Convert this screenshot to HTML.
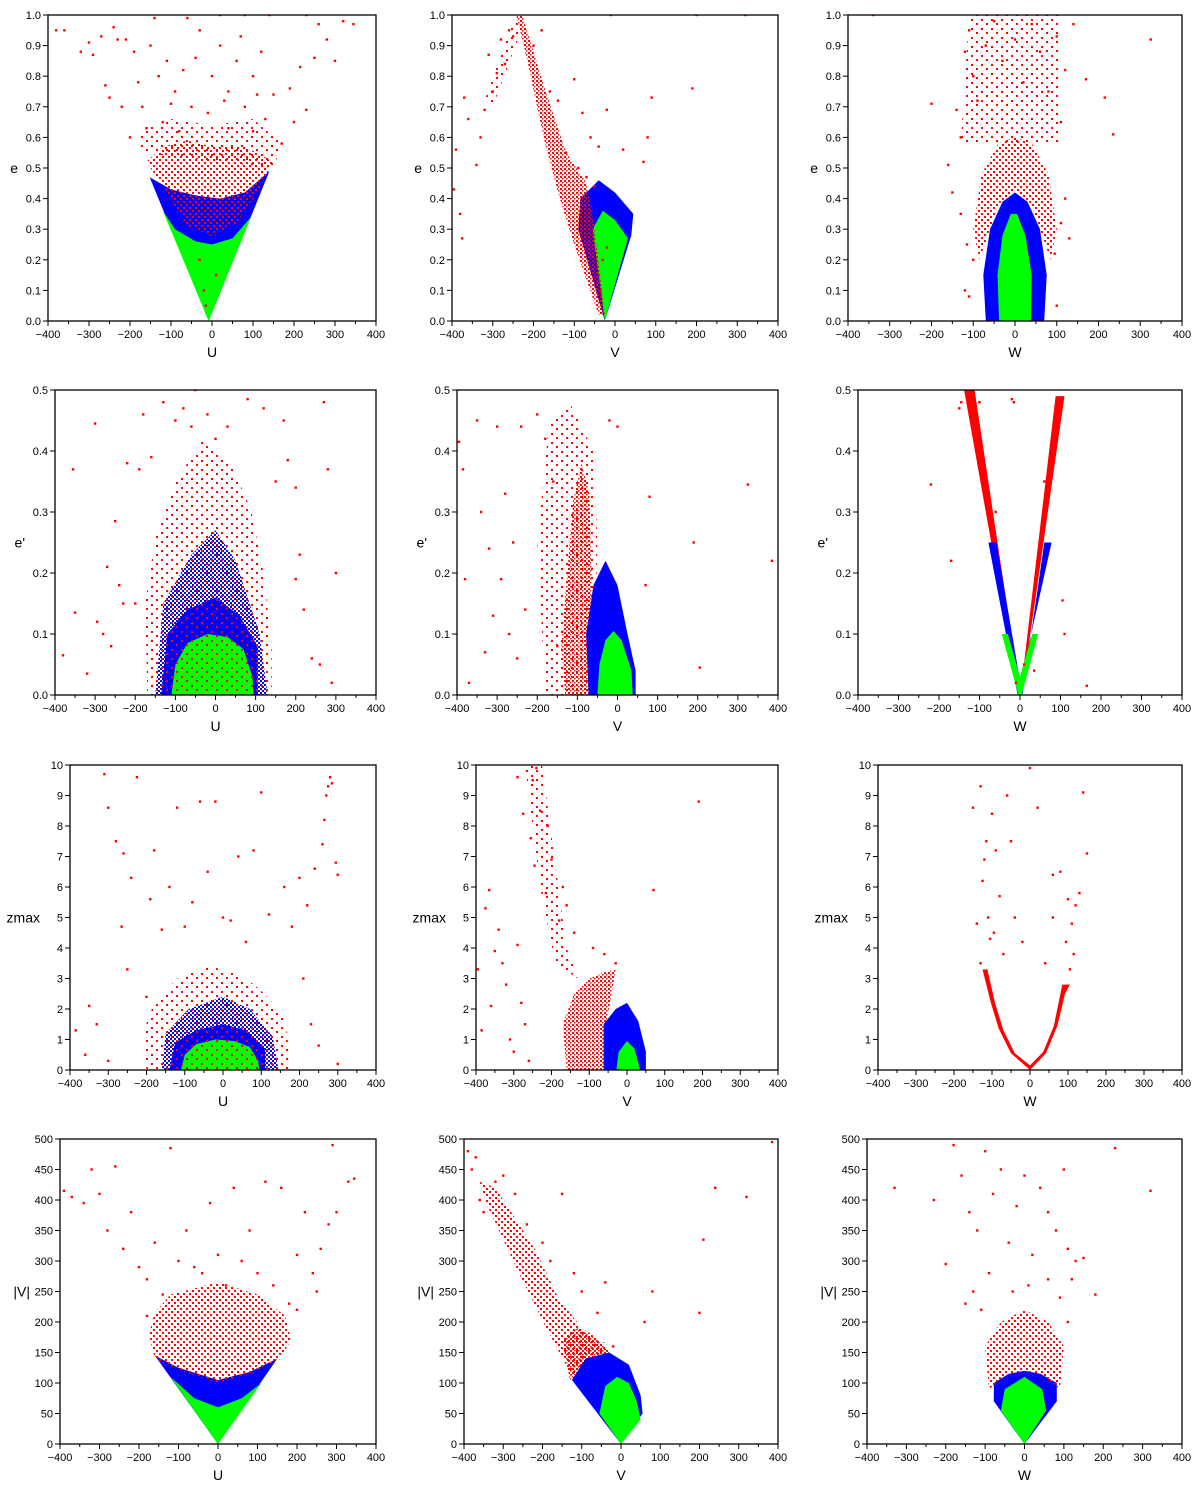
<!DOCTYPE html>
<html><head><meta charset="utf-8"><style>
html,body{margin:0;padding:0;background:#fff}
svg{display:block;font-family:"Liberation Sans","DejaVu Sans",sans-serif}
</style></head><body>
<svg id="chart" width="1200" height="1495" viewBox="0 0 1200 1495" xmlns="http://www.w3.org/2000/svg">
<defs>
<pattern id="rd" width="4" height="4" patternUnits="userSpaceOnUse"><rect x="0" y="0" width="2" height="2" fill="#f00"/><rect x="2" y="2" width="1.5" height="1.5" fill="#f00"/></pattern>
<pattern id="rm" width="6" height="6" patternUnits="userSpaceOnUse"><rect x="0" y="0" width="2" height="2" fill="#f00"/><rect x="3" y="3" width="2" height="2" fill="#f00"/></pattern>
<pattern id="rs" width="10" height="9" patternUnits="userSpaceOnUse"><rect x="1" y="1" width="2" height="2" fill="#f00"/><rect x="6" y="5" width="2" height="2" fill="#f00"/></pattern>
<pattern id="bm" width="4" height="4" patternUnits="userSpaceOnUse"><rect x="0" y="0" width="2" height="2" fill="#00f"/><rect x="2" y="2" width="2" height="2" fill="#00f"/></pattern>
</defs>
</svg>
<script>
// ---- data (x = velocity component, y = orbital parameter) ----
const xTicks = [-400,-300,-200,-100,0,100,200,300,400];
const yTicksE = [0,0.1,0.2,0.3,0.4,0.5,0.6,0.7,0.8,0.9,1.0];
const yTicksEp = [0,0.1,0.2,0.3,0.4,0.5];
const yTicksZ = [0,1,2,3,4,5,6,7,8,9,10];
const yTicksV = [0,50,100,150,200,250,300,350,400,450,500];

// Panel U-e
const p11Blue = [[-8,0],[-152,0.47],[-100,0.43],[-40,0.41],[20,0.40],[80,0.42],[140,0.49],[-8,0]];
const p11Green = [[-8,0],[-120,0.36],[-90,0.30],[-40,0.26],[0,0.25],[50,0.27],[95,0.34],[-8,0]];
const p11RedDense = [[-120,0.44],[-160,0.52],[-120,0.57],[-60,0.59],[0,0.57],[80,0.57],[150,0.52],[110,0.42],[60,0.32],[0,0.28],[-60,0.31]];
const p11RedMid = [[-170,0.55],[-180,0.62],[-100,0.66],[0,0.64],[100,0.66],[170,0.58],[150,0.5]];
const p11Red = [[-380,0.95],[-360,0.95],[-320,0.88],[-300,0.91],[-290,0.87],[-270,0.93],[-260,0.77],[-250,0.73],[-240,0.96],[-230,0.92],[-220,0.7],[-210,0.92],[-190,0.88],[-180,0.78],[-170,0.7],[-160,0.63],[-150,0.9],[-130,0.8],[-110,0.85],[-90,0.75],[-70,0.82],[-50,0.7],[-30,0.95],[-10,0.68],[0,0.8],[20,0.9],[40,0.75],[60,0.85],[80,0.7],[100,0.8],[120,0.88],[130,0.66],[150,0.74],[170,0.58],[190,0.76],[200,0.65],[215,0.83],[230,0.69],[250,0.86],[260,0.97],[280,0.92],[300,0.85],[320,0.98],[345,0.97],[-120,0.65],[-80,0.62],[40,0.63],[100,0.62],[-200,0.6],[-140,0.99],[-60,0.99],[20,1.0],[80,1.0],[140,1.0],[230,1.0],[-20,0.1],[-15,0.05],[10,0.15],[-30,0.2],[30,0.72],[-40,0.86],[70,0.93],[110,0.74],[-100,0.71]];

// Panel V-e
const p12Blue = [[-25,0],[-90,0.3],[-85,0.4],[-40,0.46],[0,0.42],[45,0.35],[40,0.28],[-25,0]];
const p12Green = [[-25,0],[-55,0.3],[-30,0.36],[0,0.33],[32,0.27],[-25,0]];
const p12RedDense = [[-242,1.0],[-228,1.0],[-170,0.75],[-120,0.55],[-70,0.45],[-50,0.3],[-25,0.02],[-40,0.02],[-100,0.25],[-140,0.42],[-175,0.6],[-215,0.85]];
const p12RedMid = [[-245,1.0],[-320,0.72],[-300,0.7],[-230,0.95]];
const p12Red = [[-395,0.43],[-390,0.56],[-380,0.35],[-375,0.27],[-370,0.73],[-360,0.66],[-340,0.51],[-330,0.60],[-320,0.69],[-310,0.87],[-300,0.75],[-290,0.81],[-280,0.92],[-270,0.84],[-260,0.95],[-250,0.93],[-160,0.75],[-140,0.72],[-120,0.55],[-80,0.68],[-60,0.6],[-40,0.57],[-20,0.69],[20,0.56],[70,0.52],[80,0.6],[90,0.73],[190,0.76],[-100,0.79],[-200,0.9],[-180,0.95],[-10,1.0],[200,1.0],[320,1.0],[-40,0.15],[-30,0.2],[-20,0.24],[-35,0.1],[-90,0.5],[-70,0.47],[-50,0.44]];

// Panel W-e
const p13Blue = [[-70,0],[-76,0.15],[-60,0.3],[-30,0.39],[0,0.42],[30,0.39],[60,0.3],[76,0.15],[70,0]];
const p13Green = [[-38,0],[-42,0.15],[-30,0.28],[-10,0.35],[5,0.35],[25,0.28],[40,0.15],[38,0]];
const p13RedDense = [[-100,0.3],[-80,0.48],[-40,0.58],[0,0.6],[40,0.58],[80,0.48],[100,0.3],[85,0.2],[40,0.38],[0,0.43],[-40,0.38],[-85,0.2]];
const p13RedMid = [[-130,0.58],[-110,1.0],[110,1.0],[110,0.58],[40,0.58],[-40,0.58]];
const p13Red = [[-340,1.0],[-200,0.71],[-160,0.51],[-150,0.42],[-140,0.69],[-130,0.6],[-120,0.88],[-110,0.95],[-100,0.8],[-90,0.72],[-70,0.9],[-50,0.98],[-30,0.85],[0,0.92],[20,0.78],[40,0.97],[60,0.88],[80,0.75],[100,0.93],[110,0.65],[120,0.82],[140,0.97],[170,0.79],[215,0.73],[235,0.61],[325,0.92],[-120,0.1],[-110,0.08],[100,0.05],[130,0.27],[120,0.4],[-130,0.35],[-100,0.2],[95,0.22],[-115,0.25],[110,0.32]];

// Panel U-e'
const p21BlueFringe = [[-150,0],[-130,0.15],[-60,0.23],[0,0.27],[50,0.22],[110,0.1],[130,0]];
const p21Blue = [[-135,0],[-120,0.1],[-70,0.14],[0,0.16],[60,0.13],[105,0.08],[105,0]];
const p21Green = [[-110,0],[-100,0.05],[-70,0.085],[-20,0.1],[30,0.095],[70,0.075],[92,0.03],[95,0]];
const p21RedDense = [[-170,0],[-175,0.15],[-150,0.26],[-100,0.35],[-30,0.42],[40,0.38],[90,0.3],[120,0.2],[140,0.08],[140,0]];
const p21Red = [[-380,0.065],[-355,0.37],[-350,0.135],[-320,0.035],[-300,0.445],[-295,0.12],[-280,0.1],[-270,0.21],[-260,0.08],[-250,0.285],[-240,0.18],[-230,0.15],[-220,0.38],[-200,0.15],[-190,0.37],[-180,0.46],[-160,0.39],[-130,0.48],[-100,0.45],[-80,0.47],[-60,0.44],[-50,0.5],[-20,0.46],[0,0.42],[30,0.44],[80,0.485],[120,0.47],[150,0.35],[170,0.45],[180,0.385],[200,0.34],[210,0.23],[220,0.14],[240,0.06],[260,0.05],[270,0.48],[280,0.37],[290,0.02],[300,0.2],[200,0.19]];

// Panel V-e'
const p22Blue = [[-72,0],[-78,0.1],[-60,0.18],[-30,0.22],[0,0.18],[25,0.1],[45,0.04],[45,0]];
const p22Green = [[-50,0],[-45,0.05],[-30,0.09],[-10,0.105],[10,0.09],[35,0.04],[38,0]];
const p22RedDense = [[-130,0],[-140,0.08],[-125,0.2],[-110,0.32],[-90,0.38],[-70,0.33],[-65,0.2],[-70,0]];
const p22RedMid = [[-180,0],[-200,0.25],[-170,0.45],[-120,0.48],[-60,0.4],[-50,0.25],[-60,0]];
const p22Red = [[-395,0.415],[-385,0.37],[-380,0.19],[-370,0.02],[-350,0.45],[-340,0.3],[-330,0.07],[-320,0.24],[-310,0.13],[-300,0.44],[-290,0.19],[-280,0.33],[-270,0.1],[-260,0.25],[-250,0.06],[-240,0.44],[-230,0.14],[-200,0.46],[-180,0.42],[-160,0.35],[-150,0.08],[-20,0.45],[0,0.44],[70,0.18],[80,0.325],[190,0.25],[205,0.045],[325,0.345],[385,0.22]];

// Panel W-e'
const p23RedLeft = [[-4,0],[-138,0.5],[-112,0.5],[-8,0.04]];
const p23RedRight = [[4,0],[110,0.49],[88,0.49],[8,0.04]];
const p23Blue = [[-6,0],[-78,0.25],[-58,0.25],[6,0],[60,0.25],[78,0.25]];
const p23Green = [[-4,0],[-45,0.1],[-30,0.1],[0,0.03],[30,0.1],[45,0.1],[4,0]];
const p23Red = [[-220,0.345],[-170,0.22],[-150,0.47],[-145,0.48],[-100,0.48],[-20,0.485],[-15,0.48],[105,0.155],[110,0.1],[165,0.015],[35,0.04],[-60,0.3],[60,0.35],[-10,0.02],[10,0.05]];

// Panel U-zmax
const p31BlueFringe = [[-160,0],[-150,1.2],[-90,2.0],[0,2.4],[70,2.0],[130,1.1],[145,0]];
const p31Blue = [[-140,0],[-125,0.9],[-70,1.3],[0,1.5],[60,1.3],[110,0.7],[110,0]];
const p31Green = [[-110,0],[-100,0.5],[-70,0.85],[-20,1.0],[30,0.95],[70,0.75],[92,0.3],[95,0]];
const p31RedDense = [[-200,0],[-210,1.2],[-180,2.2],[-120,3],[-40,3.4],[40,3.2],[100,2.6],[160,1.8],[180,0]];
const p31Red = [[-385,1.3],[-350,2.1],[-310,9.7],[-300,8.6],[-280,7.5],[-265,4.7],[-260,7.1],[-250,3.3],[-240,6.3],[-225,9.6],[-200,2.4],[-190,5.6],[-180,7.2],[-160,4.6],[-140,6.0],[-120,8.6],[-100,4.7],[-80,5.5],[-60,8.8],[-40,6.5],[-20,8.8],[0,5.0],[20,4.9],[40,7.0],[60,4.2],[80,7.2],[100,9.1],[120,5.1],[160,6.0],[180,4.7],[200,6.3],[210,3.0],[220,5.4],[240,6.6],[260,7.4],[265,8.2],[270,9.0],[275,9.3],[280,9.6],[285,9.4],[295,6.8],[300,6.4],[-360,0.5],[-300,0.3],[-330,1.5],[230,1.5],[250,0.8],[300,0.2]];

// Panel V-zmax
const p32Blue = [[-62,0],[-62,1.5],[-30,2.0],[0,2.2],[30,1.6],[50,0.6],[50,0]];
const p32Green = [[-28,0],[-22,0.6],[0,0.95],[20,0.7],[35,0]];
const p32RedDense = [[-160,0],[-170,1.5],[-140,2.5],[-100,3],[-60,3.2],[-30,3.3],[-55,1.5],[-62,0]];
const p32RedMid = [[-270,10],[-225,10],[-160,4],[-130,3],[-190,3.5],[-230,6]];
const p32Red = [[-395,3.3],[-385,1.3],[-375,5.3],[-365,5.9],[-360,2.1],[-350,3.9],[-340,4.6],[-330,3.5],[-320,2.8],[-310,1.0],[-300,0.6],[-290,4.1],[-280,2.2],[-270,1.5],[-260,0.3],[-250,9.5],[-240,9.9],[-230,8.5],[-210,8.0],[-200,6.9],[-180,4.9],[-160,5.4],[-140,4.5],[-90,4.0],[-60,3.8],[-30,3.5],[70,5.9],[190,8.8],[-290,9.6],[-275,8.4],[-255,7.6],[-245,6.7],[-215,5.8],[-170,6.0]];

// Panel W-zmax
const p33RedLeft = [[0,0],[-50,0.55],[-82,1.35],[-103,2.2],[-125,3.3],[-112,3.3],[-92,2.2],[-70,1.3],[-40,0.55],[0,0.15]];
const p33RedRight = [[0,0],[42,0.55],[72,1.45],[92,2.5],[105,2.8],[85,2.8],[63,1.45],[35,0.6],[0,0.15]];
const p33Red = [[-150,8.6],[-130,9.3],[-120,6.9],[-100,8.4],[-90,7.2],[-80,5.7],[-60,9.0],[-50,7.5],[-40,5.0],[-20,4.2],[0,9.9],[20,8.6],[40,3.5],[60,5.0],[80,6.5],[100,5.6],[110,4.8],[120,5.4],[130,5.8],[140,9.1],[150,7.1],[-110,5.0],[-140,4.8],[-95,4.5],[-70,3.8],[-130,3.5],[115,3.8],[-125,6.2],[-105,4.3],[105,3.3],[95,4.2],[-115,7.5],[60,6.4]];

// Panel U-|V|
const p41Blue = [[0,0],[-160,145],[-100,125],[0,105],[80,118],[150,140],[0,0]];
const p41Green = [[0,0],[-120,110],[-60,75],[0,60],[60,75],[110,100],[0,0]];
const p41RedDense = [[-160,140],[-175,180],[-160,215],[-120,245],[0,265],[100,245],[170,210],[185,170],[155,138],[80,115],[0,100],[-100,122]];
const p41Red = [[-390,415],[-370,405],[-340,395],[-320,450],[-300,410],[-280,350],[-260,455],[-240,320],[-220,380],[-200,290],[-180,270],[-160,330],[-140,245],[-120,485],[-100,300],[-80,350],[-60,290],[-40,280],[-20,395],[0,310],[20,260],[40,420],[60,300],[80,350],[100,280],[120,430],[140,260],[160,420],[180,230],[200,310],[220,380],[240,280],[260,320],[280,360],[300,380],[330,430],[345,435],[290,490],[250,250],[-180,210],[200,220]];

// Panel V-|V|
const p42Blue = [[0,0],[-125,105],[-90,140],[-30,150],[20,130],[50,80],[55,50],[0,0]];
const p42Green = [[0,0],[-55,50],[-40,95],[-10,110],[20,100],[40,70],[50,40],[0,0]];
const p42RedDense = [[-130,105],[-150,170],[-110,190],[-60,170],[-30,150],[-80,140]];
const p42RedMid = [[-360,430],[-320,420],[-220,320],[-160,240],[-100,190],[-40,165],[-20,130],[-60,110],[-120,105],[-190,190],[-260,280],[-340,390]];
const p42Red = [[-390,480],[-380,450],[-370,470],[-360,400],[-350,380],[-320,430],[-300,440],[-270,410],[-240,360],[-200,330],[-180,300],[-150,410],[-120,280],[-100,250],[-60,215],[-40,265],[-20,160],[60,200],[80,250],[200,215],[240,420],[320,405],[385,495],[210,335]];

// Panel W-|V|
const p43Blue = [[0,0],[-78,70],[-78,100],[-40,115],[0,120],[40,115],[82,100],[82,70]];
const p43Green = [[0,0],[-60,55],[-50,90],[0,110],[45,90],[55,55]];
const p43RedDense = [[-90,90],[-100,160],[-60,200],[0,220],[60,200],[100,160],[90,90],[40,115],[0,120],[-40,115]];
const p43Red = [[-330,420],[-230,400],[-200,295],[-180,490],[-160,440],[-140,380],[-120,350],[-100,480],[-80,410],[-60,450],[-40,330],[-20,390],[0,440],[20,310],[40,420],[60,380],[80,350],[100,450],[110,320],[120,270],[130,300],[150,305],[180,245],[230,485],[320,415],[-130,250],[-110,220],[110,200],[-150,230],[90,240],[-90,280],[60,270],[-30,250],[10,260]];

// ---- rendering ----
const NS = "http://www.w3.org/2000/svg";
const svg = document.getElementById('chart');
function mk(tag, attrs, parent){ const e=document.createElementNS(NS,tag); for(const k in attrs) e.setAttribute(k,attrs[k]); (parent||svg).appendChild(e); return e; }

const rows = [
 {top:15,bot:321,ymax:1,ticks:yTicksE,fmt:v=>v.toFixed(1),ylab:"e"},
 {top:390,bot:695,ymax:0.5,ticks:yTicksEp,fmt:v=>v.toFixed(1),ylab:"e'"},
 {top:765,bot:1070,ymax:10,ticks:yTicksZ,fmt:v=>String(v),ylab:"zmax"},
 {top:1139,bot:1444,ymax:500,ticks:yTicksV,fmt:v=>String(v),ylab:"|V|"}
];
const lefts = [[48,452,848],[55,457,858],[70,476,878],[60,464,867]];
const right = [376,778,1182];
const xlabs = ["U","V","W"];
const layers = [
 [ [p11Blue,'#00f'],[p11Green,'#0f0'],[p11RedMid,'url(#rs)'],[p11RedDense,'url(#rm)'],[p11Red,'pts'] ],
 [ [p12Blue,'#00f'],[p12Green,'#0f0'],[p12RedMid,'url(#rs)'],[p12RedDense,'url(#rd)'],[p12Red,'pts'] ],
 [ [p13Blue,'#00f'],[p13Green,'#0f0'],[p13RedMid,'url(#rs)'],[p13RedDense,'url(#rm)'],[p13Red,'pts'] ],
 [ [p21BlueFringe,'url(#bm)'],[p21Blue,'#00f'],[p21Green,'#0f0'],[p21RedDense,'url(#rs)'],[p21Red,'pts'] ],
 [ [p22RedMid,'url(#rs)'],[p22RedDense,'url(#rd)'],[p22Blue,'#00f'],[p22Green,'#0f0'],[p22Red,'pts'] ],
 [ [p23RedLeft,'#f00'],[p23RedRight,'#f00'],[p23Blue,'#00f'],[p23Green,'#0f0'],[p23Red,'pts'] ],
 [ [p31BlueFringe,'url(#bm)'],[p31Blue,'#00f'],[p31Green,'#0f0'],[p31RedDense,'url(#rs)'],[p31Red,'pts'] ],
 [ [p32RedMid,'url(#rs)'],[p32RedDense,'url(#rd)'],[p32Blue,'#00f'],[p32Green,'#0f0'],[p32Red,'pts'] ],
 [ [p33RedLeft,'#f00'],[p33RedRight,'#f00'],[p33Red,'pts'] ],
 [ [p41Blue,'#00f'],[p41Green,'#0f0'],[p41RedDense,'url(#rm)'],[p41Red,'pts'] ],
 [ [p42RedMid,'url(#rm)'],[p42RedDense,'url(#rd)'],[p42Blue,'#00f'],[p42Green,'#0f0'],[p42Red,'pts'] ],
 [ [p43Blue,'#00f'],[p43Green,'#0f0'],[p43RedDense,'url(#rm)'],[p43Red,'pts'] ]
];

rows.forEach((r,ri)=>{
 for(let ci=0;ci<3;ci++){
  const L=lefts[ri][ci], R=right[ci], T=r.top, B=r.bot;
  const sx=v=>L+(v+400)/800*(R-L);
  const sy=v=>B-v/r.ymax*(B-T);
  const g=mk('g',{});
  
  
  const clipId='c'+ri+ci;
  const cp=mk('clipPath',{id:clipId},g); mk('rect',{x:L,y:T,width:R-L,height:B-T},cp);
  const plot=mk('g',{'clip-path':'url(#'+clipId+')'},g);
  layers[ri*3+ci].forEach(([arr,fill])=>{
   if(fill==='pts'){
    arr.forEach(p=>{
     const d=mk('rect',{x:sx(p[0])-1.2,y:sy(p[1])-1.2,width:2.4,height:2.4,fill:'#f00'},plot);
     
     
    });
   } else {
    const pg=mk('polygon',{points:arr.map(p=>sx(p[0]).toFixed(1)+','+sy(p[1]).toFixed(1)).join(' '),fill:fill},plot);
    
    
   }
  });
  const fr=mk('rect',{x:L,y:T,width:R-L,height:B-T,fill:'none',stroke:'#000','stroke-width':1.3},g);
  
  
  for(let v=-400; v<=400; v+=50){
   const major=v%100===0;
   mk('line',{x1:sx(v),x2:sx(v),y1:B,y2:B+(major?5:3),stroke:'#000','stroke-width':1},g);
  }
  xTicks.forEach(v=>{
   const t=mk('text',{x:sx(v),y:B+17,'font-size':11,'text-anchor':'middle',fill:'#000'},g);
   t.textContent=(v<0?'\u2212'+(-v):String(v));
   
   
  });
  r.ticks.forEach(v=>{
   mk('line',{x1:L-5,x2:L,y1:sy(v),y2:sy(v),stroke:'#000','stroke-width':1},g);
   const t=mk('text',{x:L-7,y:sy(v)+4,'font-size':11,'text-anchor':'end',fill:'#000'},g);
   t.textContent=r.fmt(v);
   
   
  });
  const xl=mk('text',{x:(L+R)/2,y:B+36,'font-size':14,'text-anchor':'middle',fill:'#000'},g);
  xl.textContent=xlabs[ci];
  
  
  const yl=mk('text',{x:L-30,y:(T+B)/2+5,'font-size':14,'text-anchor':'end',fill:'#000'},g);
  yl.textContent=r.ylab;
  
  
 }
});
</script>
</body></html>
